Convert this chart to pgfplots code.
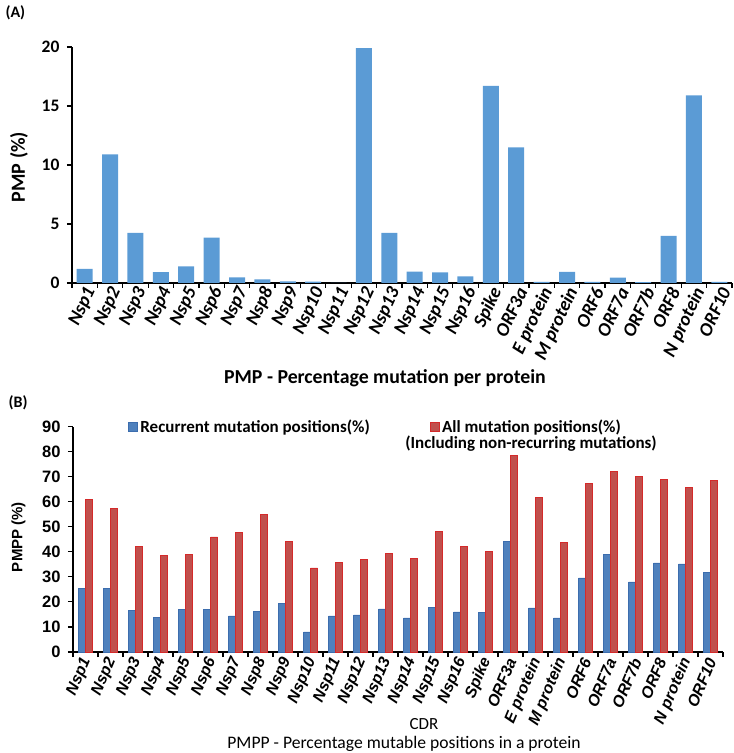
\documentclass[border=0pt]{standalone}
\usepackage{fontspec}
\setmainfont{Carlito}
\newfontfamily\arialf{Liberation Sans}
\usepackage{pgfplots}
\usepackage{pgfplotstable}
\pgfplotsset{compat=1.18}
\definecolor{barA}{HTML}{5B9BD5}
\definecolor{barBblue}{HTML}{4F81BD}
\definecolor{barBblueE}{HTML}{3C6DAE}
\definecolor{barBred}{HTML}{C0504D}
\definecolor{barBredE}{HTML}{D42A2A}
\pgfplotstableread{
x A blue red
0 1.2 25.5 60.8
1 10.9 25.5 57.2
2 4.25 16.5 42.0
3 0.93 13.7 38.7
4 1.4 17.1 38.8
5 3.85 17.1 45.9
6 0.48 14.4 47.7
7 0.31 16.3 54.8
8 0.13 19.5 44.0
9 0.12 8.0 33.6
10 0.0 14.4 35.7
11 19.9 14.8 36.8
12 4.25 17.2 39.5
13 0.96 13.6 37.5
14 0.9 17.7 48.0
15 0.56 16.0 42.0
16 16.7 15.9 40.3
17 11.5 44.1 78.4
18 0.1 17.6 61.6
19 0.95 13.6 43.9
20 0.1 29.6 67.3
21 0.45 39.1 72.0
22 0.08 28.0 70.0
23 4.0 35.6 68.8
24 15.9 35.2 65.7
25 0.1 31.9 68.5
}\datatable
\newcommand{\cats}{Nsp1,Nsp2,Nsp3,Nsp4,Nsp5,Nsp6,Nsp7,Nsp8,Nsp9,Nsp10,Nsp11,Nsp12,Nsp13,Nsp14,Nsp15,Nsp16,Spike,ORF3a,E protein,M protein,ORF6,ORF7a,ORF7b,ORF8,N protein,ORF10}
\pgfplotsset{
  common/.style={
    scale only axis,
    anchor=south west,
    xmin=-0.5, xmax=25.5,
    axis lines*=left,
    axis line style={black, line width=1.4pt, -},
    xtick={0,...,25},
    minor xtick={-0.5,0.5,...,25.5},
    major x tick style={draw=none},
    minor x tick style={black, line width=1.2pt},
    y tick style={black, line width=1.2pt},
    tick align=outside,
    major tick length=5pt,
    minor tick length=5pt,
    /pgf/number format/assume math mode=true,
    clip=false,
  },
  legA/.style={legend image code/.code={\draw[##1] (0pt,-4.5pt) rectangle (9pt,4.5pt);}},
  legB/.style={legend image code/.code={\path[draw=none,fill=none] (0pt,0pt) -- (60pt,0pt); \draw[##1] (60pt,-4.5pt) rectangle (69pt,4.5pt);}},
}
\begin{document}
\begin{tikzpicture}
\path[use as bounding box] (0,0) rectangle (734pt,753pt);
% Panel A
\begin{axis}[common,
  at={(72pt,470pt)},
  width=660pt, height=236pt,
  ymin=0, ymax=20, ytick={0,5,...,20},
  ybar, bar width=16pt,
  xticklabels/.expanded={\cats},
  xticklabel style={rotate=65, anchor=east, font=\fontsize{19}{19}\selectfont\bfseries\itshape, inner sep=1pt, xshift=3pt, yshift=-6pt},
  yticklabel style={font=\fontsize{17.5}{17.5}\selectfont\bfseries, xshift=-4pt},
]
\addplot[fill=barA, draw=none] table[x=x, y=A] {\datatable};
\end{axis}
% Panel B
\begin{axis}[common,
  at={(73pt,101pt)},
  width=650pt, height=225.5pt,
  ymin=0, ymax=90, ytick={0,10,...,90},
  ybar=0pt, bar width=7pt,
  xticklabels/.expanded={\cats},
  xticklabel style={rotate=67, anchor=east, font=\arialf\fontsize{16}{16}\selectfont\bfseries\itshape, inner sep=1pt, yshift=-2pt},
  yticklabel style={font=\arialf\fontsize{16.5}{16.5}\selectfont\bfseries, xshift=-4pt},
  legend columns=2,
  legend style={draw=none, fill=none, at={(rel axis cs:0.0846,1.0)}, anchor=west,
    inner sep=0pt, outer sep=0pt,
    font=\fontsize{17}{17}\selectfont\bfseries,
    nodes={inner sep=0pt},
    /tikz/every odd column/.append style={column sep=3pt}},
]
\addplot[fill=barBblue, draw=barBblueE, line width=0.4pt, legA] table[x=x, y=blue] {\datatable};
\addplot[fill=barBred, draw=barBredE, line width=0.6pt, legB] table[x=x, y=red] {\datatable};
\legend{Recurrent mutation positions(\%), All mutation positions(\%)}
\end{axis}
% texts
\node[anchor=west, font=\fontsize{16}{16}\selectfont\bfseries] at (2pt,740pt) {(A)};
\node[anchor=west, font=\fontsize{16}{16}\selectfont\bfseries] at (5pt,350pt) {(B)};
\node[rotate=90, font=\fontsize{20}{20}\selectfont\bfseries] at (19pt,586pt) {PMP (\%)};
\node[rotate=90, font=\arialf\fontsize{15}{15}\selectfont\bfseries] at (18.5pt,216pt) {PMPP (\%)};
\node[font=\fontsize{19.8}{19.8}\selectfont\bfseries] at (385pt,375pt) {PMP - Percentage mutation per protein};
\node[inner sep=0pt, font=\fontsize{17}{17}\selectfont\bfseries] at (531pt,309pt) {(Including non-recurring mutations)};
\node[font=\fontsize{17}{17}\selectfont] at (424pt,29pt) {CDR};
\node[font=\fontsize{17.6}{17.6}\selectfont] at (404pt,9pt) {PMPP - Percentage mutable positions in a protein};
\end{tikzpicture}
\end{document}
